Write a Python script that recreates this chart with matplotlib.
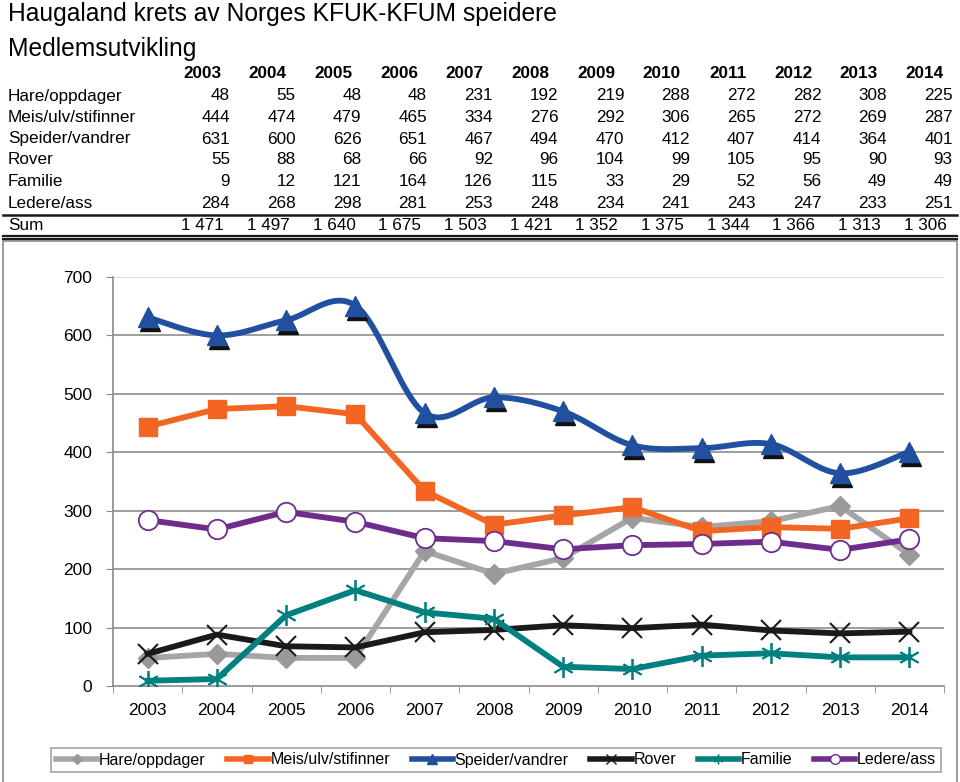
import numpy as np
import matplotlib.pyplot as plt
from matplotlib import transforms
from matplotlib.lines import Line2D
from matplotlib.patches import Rectangle

plt.rcParams['font.family'] = ['Liberation Sans', 'DejaVu Sans']

years = [2003, 2004, 2005, 2006, 2007, 2008, 2009, 2010, 2011, 2012, 2013, 2014]
hare = [48, 55, 48, 48, 231, 192, 219, 288, 272, 282, 308, 225]
meis = [444, 474, 479, 465, 334, 276, 292, 306, 265, 272, 269, 287]
speider = [631, 600, 626, 651, 467, 494, 470, 412, 407, 414, 364, 401]
rover = [55, 88, 68, 66, 92, 96, 104, 99, 105, 95, 90, 93]
familie = [9, 12, 121, 164, 126, 115, 33, 29, 52, 56, 49, 49]
ledere = [284, 268, 298, 281, 253, 248, 234, 241, 243, 247, 233, 251]

names = ['Hare/oppdager', 'Meis/ulv/stifinner', 'Speider/vandrer',
         'Rover', 'Familie', 'Ledere/ass']
series = [hare, meis, speider, rover, familie, ledere]

W, H = 960, 782
fig = plt.figure(figsize=(W / 100, H / 100), dpi=100)


def px(x, y):
    return x / W, 1 - y / H


# --- title and table ---
fig.text(*px(8, 14), 'Haugaland krets av Norges KFUK-KFUM speidere',
         fontsize=17.7, va='center', ha='left')
fig.text(*px(8, 49), 'Medlemsutvikling', fontsize=17.7, va='center', ha='left')

col_right = [230 + i * 65.7 for i in range(len(years))]
row_y = [96, 117, 139, 160, 182, 203]
fs = 12.3

for i, yr in enumerate(years):
    fig.text(*px(col_right[i] - 9, 74), str(yr), fontsize=fs,
             fontweight='bold', ha='right', va='center')

for r, (name, vals) in enumerate(zip(names, series)):
    fig.text(*px(8, row_y[r]), name, fontsize=fs, ha='left', va='center')
    for i, v in enumerate(vals):
        fig.text(*px(col_right[i], row_y[r]), str(v), fontsize=fs,
                 ha='right', va='center')

fig.text(*px(8, 225), 'Sum', fontsize=fs, ha='left', va='center')
for i in range(len(years)):
    total = sum(s[i] for s in series)
    label = f'{total:,}'.replace(',', ' ')
    fig.text(*px(col_right[i] - 6, 225), label, fontsize=fs,
             ha='right', va='center')

for yy, lw in [(214.5, 1.8), (235.5, 1.6), (239, 1.6)]:
    fig.add_artist(Line2D([3 / W, 957 / W], [1 - yy / H] * 2,
                          color='#1a1a1a', lw=lw))

# chart frame (bottom runs off the picture)
fig.add_artist(Rectangle(px(3, 790), 954 / W, 549 / H, fill=False,
                         edgecolor='#8a8a8a', lw=1.2))

# --- chart ---
ax = fig.add_axes([113 / W, 1 - 686 / H, (944 - 113) / W, (686 - 277) / H])
x = np.arange(len(years))
ax.set_xlim(-0.5, len(years) - 0.5)
ax.set_ylim(0, 700)
ax.set_yticks(range(0, 701, 100))
ax.set_xticks(x)
ax.set_xticklabels([str(y) for y in years], fontsize=12.5)
ax.set_xticks(np.arange(-0.5, len(years), 1), minor=True)
ax.tick_params(axis='x', which='major', length=0, pad=12)
ax.tick_params(axis='x', which='minor', length=5, color='#8a8a8a', direction='out')
ax.tick_params(axis='y', length=5, color='#8a8a8a', labelsize=12.5, pad=10)
for s in ['top', 'right']:
    ax.spines[s].set_visible(False)
for s in ['left', 'bottom']:
    ax.spines[s].set_color('#8a8a8a')
    ax.spines[s].set_linewidth(1.2)
for g in range(100, 701, 100):
    ax.axhline(g, color='#d9d9d9' if g == 700 else '#8c8c8c', lw=1.2, zorder=0)


def smooth(xs, ys, n=40):
    pts = np.column_stack([xs, ys]).astype(float)
    ext = np.vstack([pts[0], pts, pts[-1]])
    out = []
    t = np.linspace(0, 1, n)[:, None]
    for i in range(len(pts) - 1):
        p0, p1, p2, p3 = ext[i], ext[i + 1], ext[i + 2], ext[i + 3]
        c1 = p1 + (p2 - p0) / 6
        c2 = p2 - (p3 - p1) / 6
        out.append((1 - t) ** 3 * p1 + 3 * (1 - t) ** 2 * t * c1
                   + 3 * (1 - t) * t ** 2 * c2 + t ** 3 * p2)
    return np.vstack(out)


lw = 4.2
# Hare
ax.plot(x, hare, color='#a6a6a6', lw=lw, marker='D', ms=10,
        mfc='#999999', mec='#999999', zorder=3)
# Meis
ax.plot(x, meis, color='#f26522', lw=lw, marker='s', ms=13,
        mfc='#f26522', mec='#f26522', zorder=4)
# Speider (smoothed)
curve = smooth(x, speider)
ax.plot(curve[:, 0], curve[:, 1], color='#2150a0', lw=lw, zorder=5)
shadow = transforms.offset_copy(ax.transData, fig=fig, x=2, y=-4, units='dots')
ax.plot(x, speider, ls='none', marker='^', ms=15, mfc='#111111',
        mec='#111111', transform=shadow, zorder=5)
ax.plot(x, speider, ls='none', marker='^', ms=15, mfc='#2150a0',
        mec='#2150a0', zorder=6)
# Rover
ax.plot(x, rover, color='#1a1a1a', lw=lw, marker='x', ms=15, mew=1.5,
        mec='#1a1a1a', zorder=7)
# Familie
ax.plot(x, familie, color='#00807f', lw=lw, marker=(6, 2, 0), ms=15, mew=1.3,
        mec='#00807f', zorder=8)
# Ledere
ax.plot(x, ledere, color='#6e2d8c', lw=lw, marker='o', ms=14, mfc='white',
        mec='#6e2d8c', mew=1.3, zorder=9)

# --- legend ---
leg_handles = [
    Line2D([], [], color='#a6a6a6', lw=4, marker='D', ms=5, mfc='#999999', mec='#999999'),
    Line2D([], [], color='#f26522', lw=4, marker='s', ms=6, mfc='#f26522', mec='#f26522'),
    Line2D([], [], color='#2150a0', lw=4, marker='^', ms=7, mfc='#2150a0', mec='#2150a0'),
    Line2D([], [], color='#1a1a1a', lw=4, marker='x', ms=7, mec='#1a1a1a', mew=1),
    Line2D([], [], color='#00807f', lw=4, marker=(6, 2, 0), ms=7, mec='#00807f', mew=1),
    Line2D([], [], color='#6e2d8c', lw=4, marker='o', ms=7, mfc='white', mec='#6e2d8c'),
]
leg = fig.legend(leg_handles, names, loc='center', bbox_to_anchor=px(496, 760),
                 ncol=6, fontsize=11.5, frameon=True, fancybox=False,
                 handlelength=2.6, handletextpad=0.1, columnspacing=1.35,
                 borderpad=0.3, edgecolor='#8a8a8a')
leg.get_frame().set_linewidth(1.2)

fig.savefig('out.png', dpi=100)
